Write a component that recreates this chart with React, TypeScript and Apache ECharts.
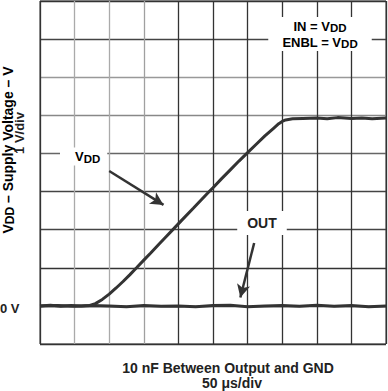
import React, { useEffect, useRef } from "react";
import * as echarts from "echarts";

// x in divisions (50 µs/div), y in volts (1 V/div)
const vddTime = [0, 0.3, 0.6, 0.9, 1.2, 1.44, 1.6, 1.8, 2.0, 2.2, 2.4, 2.6, 2.79, 3.0, 3.2, 3.45, 3.65, 3.86, 4.1, 4.43, 4.65, 4.87, 5.0, 5.25, 5.5, 5.75, 6.0, 6.25, 6.5, 6.75, 6.9, 7.0, 7.1, 7.3, 7.6, 8.0, 8.3, 8.6, 9.0, 9.3, 9.6, 10];
const vddVolts = [0, 0.02, -0.01, 0.01, 0, 0.01, 0.06, 0.17, 0.31, 0.47, 0.64, 0.82, 1.0, 1.2, 1.39, 1.63, 1.82, 2.02, 2.25, 2.56, 2.77, 2.98, 3.1, 3.34, 3.57, 3.8, 4.02, 4.24, 4.46, 4.66, 4.78, 4.84, 4.88, 4.91, 4.92, 4.93, 4.91, 4.94, 4.92, 4.93, 4.91, 4.93];
const outTime = [0, 0.5, 1.0, 1.5, 2.0, 2.5, 3.0, 3.5, 4.0, 4.5, 5.0, 5.5, 6.0, 6.5, 7.0, 7.5, 8.0, 8.5, 9.0, 9.5, 10];
const outVolts = [0, 0.01, -0.01, 0.01, 0, -0.02, 0.01, -0.01, 0, -0.02, 0.01, 0.02, -0.02, 0, 0.01, -0.01, 0.02, -0.01, 0.01, -0.02, 0];

const vddArrow = [[2.0, 3.54], [3.57, 2.65]];
const outArrow = [[6.19, 1.65], [5.79, 0.22]];

const xSplitColors = ["#333", "#aaa", "#aaa", "#a0a0a0", "#333", "#333", "#333", "#333", "#333", "#333", "#333"];
const ySplitColors = ["#333", "#333", "#333", "#444", "#444", "#666", "#888", "#999", "#444", "#333"];

const FONT = "'Liberation Sans', Arial, Helvetica, sans-serif";

export default function App() {
  const ref = useRef<HTMLDivElement>(null);
  useEffect(() => {
    if (!ref.current) return;
    const chart = echarts.init(ref.current, null, { renderer: "svg" });
    const main = (size: number, lh: number) => ({ fontSize: size, fontWeight: "bold", fontFamily: FONT, color: "#222", lineHeight: lh });
    const sub = (size: number, lh: number) => ({ fontSize: size, fontWeight: "bold", fontFamily: FONT, color: "#222", lineHeight: lh, verticalAlign: "bottom" });
    chart.setOption({
      animation: false,
      backgroundColor: "#fff",
      grid: { left: 40, right: 2, top: 1, bottom: 47, show: true, borderColor: "#333", borderWidth: 1 },
      xAxis: {
        type: "value", min: 0, max: 10, interval: 1,
        axisLine: { show: false }, axisTick: { show: false }, axisLabel: { show: false },
        splitLine: { show: true, lineStyle: { color: xSplitColors, width: 1.3 } },
      },
      yAxis: {
        type: "value", min: -1, max: 8, interval: 1,
        axisLine: { show: false }, axisTick: { show: false }, axisLabel: { show: false },
        splitLine: { show: true, lineStyle: { color: ySplitColors, width: 1.3 } },
      },
      series: [
        {
          type: "line", name: "OUT", showSymbol: false, silent: true,
          data: outTime.map((t, i) => [t, outVolts[i]]),
          lineStyle: { color: "#333", width: 3 },
          markLine: {
            silent: true, symbol: ["none", "arrow"], symbolSize: [10, 13],
            lineStyle: { color: "#333", width: 2.5, type: "solid" }, label: { show: false },
            data: [[{ coord: outArrow[0] }, { coord: outArrow[1] }]],
          },
        },
        {
          type: "line", name: "VDD", showSymbol: false, silent: true,
          data: vddTime.map((t, i) => [t, vddVolts[i]]),
          lineStyle: { color: "#333", width: 3 },
          markLine: {
            silent: true, symbol: ["none", "arrow"], symbolSize: [10, 13],
            lineStyle: { color: "#333", width: 2.5, type: "solid" }, label: { show: false },
            data: [[{ coord: vddArrow[0] }, { coord: vddArrow[1] }]],
          },
        },
      ],
      graphic: [
        {
          type: "text", x: 320, y: 34, z: 100,
          style: {
            text: "{m|IN = V}{s|DD}\n{m|ENBL = V}{s|DD}",
            align: "center", verticalAlign: "middle",
            backgroundColor: "#fff", padding: [1, 14, 1, 14],
            rich: { m: main(13, 16), s: sub(11.5, 9) },
          },
        },
        {
          type: "text", x: 60, y: 156.5, z: 100,
          style: {
            text: "{m|V}{s|DD}", align: "left", verticalAlign: "middle",
            backgroundColor: "#fff", padding: [1, 7, 1, 15],
            rich: { m: main(13, 16), s: sub(11.5, 9) },
          },
        },
        {
          type: "text", x: 262, y: 223, z: 100,
          style: {
            text: "OUT", align: "center", verticalAlign: "middle",
            backgroundColor: "#fff", padding: [5, 10, 5, 10],
            font: `bold 14px ${FONT}`, fill: "#222",
          },
        },
        {
          type: "text", x: 0, y: 308, z: 100,
          style: { text: "0 V", align: "left", verticalAlign: "middle", font: `bold 13px ${FONT}`, fill: "#222" },
        },
        {
          type: "text", x: 8, y: 150, rotation: Math.PI / 2, z: 100,
          style: {
            text: "{m|V}{s|DD}{m| – Supply Voltage – V}", align: "center", verticalAlign: "middle",
            rich: { m: main(14, 16), s: sub(12, 9) },
          },
        },
        {
          type: "text", x: 19, y: 133, rotation: Math.PI / 2, z: 100,
          style: { text: "1 V/div", align: "center", verticalAlign: "middle", font: `bold 13px ${FONT}`, fill: "#222" },
        },
        {
          type: "text", x: 228, y: 368, z: 100,
          style: { text: "10 nF Between Output and GND", align: "center", verticalAlign: "middle", font: `bold 14px ${FONT}`, fill: "#222" },
        },
        {
          type: "text", x: 232, y: 383, z: 100,
          style: { text: "50 μs/div", align: "center", verticalAlign: "middle", font: `bold 14px ${FONT}`, fill: "#222" },
        },
      ],
    });
    return () => chart.dispose();
  }, []);
  return <div ref={ref} style={{ position: "absolute", left: 0, top: 0, width: 388, height: 391 }} />;
}
